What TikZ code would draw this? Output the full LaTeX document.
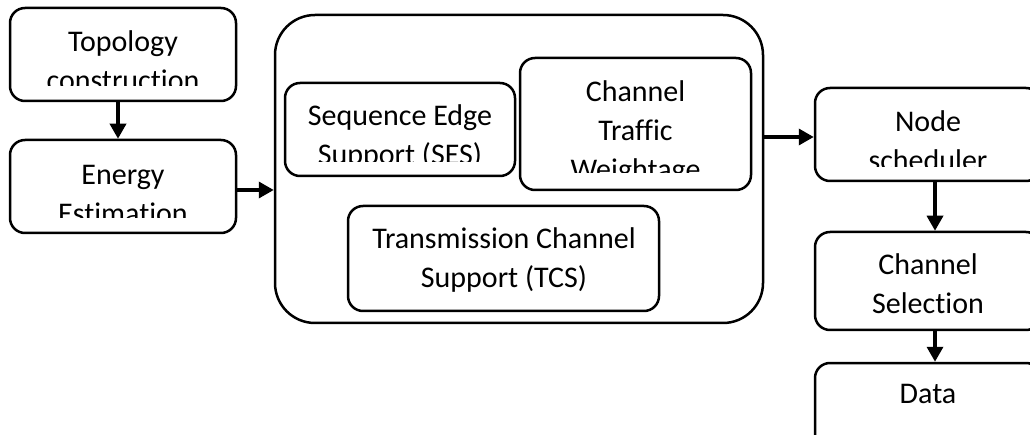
\documentclass[tikz,border=0pt]{standalone}
\usepackage{fontspec}
\setmainfont{Carlito}[Ligatures=NoCommon]
\usetikzlibrary{arrows.meta}

\tikzset{
  blk/.style={draw, line width=2.5pt, rounded corners=15pt, inner sep=0pt},
  lbl/.style={align=center, anchor=base, inner sep=0pt, font=\fontsize{30}{39}\selectfont},
  flow/.style={line width=3.4pt, -{Triangle[length=15pt,width=16pt]}},
}

\begin{document}
\begin{tikzpicture}[x=1pt,y=-1pt]
\useasboundingbox (0,0) rectangle (1030,435);

% left column
\node[blk, minimum width=226pt, minimum height=93pt] (topo) at (123,54.5) {};
\node[blk, minimum width=226pt, minimum height=93pt] (energy) at (123,186.5) {};

% middle block and its parts
\node[blk, rounded corners=40pt, minimum width=488pt, minimum height=308pt] (hub) at (519,169) {};
\node[blk, minimum width=230pt, minimum height=93pt] (ses) at (400,129.5) {};
\node[blk, minimum width=231pt, minimum height=132pt] (ctw) at (635.5,124) {};
\node[blk, minimum width=311pt, minimum height=105pt] (tcs) at (503.5,258.5) {};

% right column
\node[blk, minimum width=226pt, minimum height=93pt] (sched) at (928,134.5) {};
\node[blk, minimum width=226pt, minimum height=98pt] (chansel) at (928,281) {};
\node[blk, minimum width=226pt, minimum height=93pt] (data) at (928,409.5) {};

% labels (base = last line), cut off at the bottom of each text area
\begin{scope}
\clip (10,8) rectangle (236,86);
\node[lbl] (topotxt) at (123,91) {Topology\\construction};
\end{scope}
\begin{scope}
\clip (10,140) rectangle (236,218);
\node[lbl] (energytxt) at (123,224) {Energy\\Estimation};
\end{scope}
\begin{scope}
\clip (285,83) rectangle (515,162);
\node[lbl] (sestxt) at (400,165) {Sequence Edge\\Support (SES)};
\end{scope}
\begin{scope}
\clip (520,58) rectangle (751,173);
\node[lbl] (ctwtxt) at (635.5,180) {Channel\\Traffic\\Weightage};
\end{scope}
\node[lbl] (tcstxt) at (504,288) {Transmission Channel\\Support (TCS)};
\begin{scope}
\clip (815,88) rectangle (1041,167);
\node[lbl] (schedtxt) at (928,171) {Node\\scheduler};
\end{scope}
\node[lbl] (chanseltxt) at (928,314) {Channel\\Selection};
\node[lbl] (datatxt) at (928,403) {Data};

% arrows
\draw[flow] ([xshift=-5pt]topo.south) -- ([xshift=-5pt]energy.north);
\draw[flow] ([yshift=-3.5pt]energy.east) -- ([yshift=-3.5pt]energy.east -| hub.west);
\draw[flow] ([yshift=-2.5pt]sched.west -| hub.east) -- ([yshift=-2.5pt]sched.west);
\draw[flow] ([xshift=7pt]sched.south) -- ([xshift=7pt]chansel.north);
\draw[flow] ([xshift=7pt]chansel.south) -- ([xshift=7pt]data.north);
\end{tikzpicture}
\end{document}
